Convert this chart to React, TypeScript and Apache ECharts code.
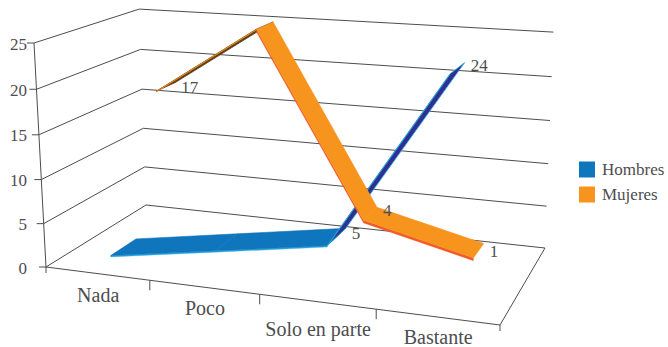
import React, { useEffect, useRef } from "react";
import * as echarts from "echarts";

const CATEGORIES = ["Nada", "Poco", "Solo en parte", "Bastante"];
const VALUE_TICKS = [0, 5, 10, 15, 20, 25];
const HOMBRES = [1, 3, 5, 24];
const MUJERES = [17, 25, 4, 1];
const HOMBRES_LABELS = [null, null, "5", "24"];
const MUJERES_LABELS = ["17", null, "4", "1"];

const FONT = '"Liberation Serif", serif';
const INK = "#4d4d4f";
const RULE = "#4d4d4f";

// Homogeneous camera: unit box (u along categories, v up, w into the depth) to page pixels.
const CAM_U = [398.6, 22, -0.1108];
const CAM_V = [-13.36, -225.72, -0.04];
const CAM_W = [121.96, -31.17, 0.1504];
const CAM_O = [46, 267, 1];

type Pt = [number, number];

function project(u: number, v: number, w: number): Pt {
  const h = (k: number) => CAM_O[k] + u * CAM_U[k] + v * CAM_V[k] + w * CAM_W[k];
  return [h(0) / h(2), h(1) / h(2)];
}

// Converts a data pair to the unit square through the hidden cartesian axes.
function toUnit(api: any, params: any, cat: number, value: number): Pt {
  const [px, py] = api.coord([cat, value]);
  const rect = params.coordSys;
  return [(px - rect.x) / rect.width, 1 - (py - rect.y) / rect.height];
}

const line = (a: Pt, b: Pt) => ({
  type: "line",
  shape: { x1: a[0], y1: a[1], x2: b[0], y2: b[1] },
  style: { stroke: RULE, lineWidth: 1, fill: "none" },
});

const text = (x: number, y: number, s: string, size: number, align: string) => ({
  type: "text",
  x,
  y,
  z2: 50,
  style: { text: s, fontSize: size, fontFamily: FONT, fill: INK, align, verticalAlign: "middle" },
});

function renderFrame(params: any, api: any) {
  const children: any[] = [];
  VALUE_TICKS.forEach((t) => {
    const [, v] = toUnit(api, params, 0, t);
    const front = project(0, v, 0);
    const back = project(0, v, 1);
    const end = project(1, v, 1);
    children.push(line(front, back), line(back, end));
    children.push(line([front[0] - 7, front[1]], front));
    children.push(text(27, front[1] + 1, String(t), 17, "right"));
  });
  children.push(line(project(0, 1, 0), project(0, 0, 0)));
  children.push(line(project(0, 0, 0), project(1, 0, 0)));
  children.push(line(project(1, 0, 0), project(1, 0, 1)));
  [0, 0.25, 0.5, 0.75, 1].forEach((u) => {
    const p = project(u, 0, 0);
    const len = u === 0 || u === 1 ? 6 : 10;
    children.push(line(p, [p[0], p[1] + len]));
  });
  const drops = [21, 21, 27, 20];
  CATEGORIES.forEach((c, i) => {
    const [u] = toUnit(api, params, i, 0);
    const p = project(u, 0, 0);
    children.push(text(p[0] + 1, p[1] + drops[i], c, 20, "center"));
  });
  return { type: "group", children };
}

interface RibbonStyle {
  values: number[];
  labels: (string | null)[];
  labelDrop: number[];
  near: number;
  far: number;
  thick: number;
  thinEdge: number;
  top: string;
  side: string;
  under: string;
  underEdge: string;
  underStroke: string;
}

const poly = (points: Pt[], fill: string, stroke: string, width: number) => ({
  type: "polygon",
  shape: { points },
  style: { fill, stroke, lineWidth: width },
});

function ribbon(cfg: RibbonStyle) {
  return (params: any, api: any) => {
    const i = params.dataIndex;
    const children: any[] = [];
    const [u0, v0] = toUnit(api, params, i, api.value(1) as number);
    if (i + 1 < cfg.values.length) {
      const [u1, v1] = toUnit(api, params, i + 1, cfg.values[i + 1]);
      const f0 = project(u0, v0, cfg.near);
      const f1 = project(u1, v1, cfg.near);
      const b0 = project(u0, v0, cfg.far);
      const b1 = project(u1, v1, cfg.far);
      const cross = (f1[0] - f0[0]) * (b0[1] - f0[1]) - (f1[1] - f0[1]) * (b0[0] - f0[0]);
      if (cross < 0) {
        // Upper face in view, with the front edge showing underneath it.
        const g0 = project(u0, v0 - cfg.thick, cfg.near);
        const g1 = project(u1, v1 - cfg.thick, cfg.near);
        children.push(poly([g0, g1, f1, f0], cfg.side, cfg.side, 0.3));
        children.push(poly([f0, f1, b1, b0], cfg.top, cfg.top, 0.6));
      } else {
        // Steep rise: only the underside and a thin edge can be seen.
        const g0 = project(u0, v0 - cfg.thinEdge, cfg.near);
        const g1 = project(u1, v1 - cfg.thinEdge, cfg.near);
        children.push(poly([f0, f1, b1, b0], cfg.under, cfg.underStroke, 0.8));
        children.push(poly([g0, g1, f1, f0], cfg.underEdge, cfg.underEdge, 0.2));
      }
    }
    const label = cfg.labels[i];
    if (label) {
      const anchor = project(u0, v0, cfg.far);
      children.push(text(anchor[0] + 6, anchor[1] + cfg.labelDrop[i], label, 17, "left"));
    }
    return { type: "group", children };
  };
}

const hombresRibbon = ribbon({
  values: HOMBRES,
  labels: HOMBRES_LABELS,
  labelDrop: [0, 0, 5, 3],
  near: 0.13,
  far: 0.38,
  thick: 0.006,
  thinEdge: 0.004,
  top: "#0f75bc",
  side: "#27aae1",
  under: "#2e3192",
  underEdge: "#27aae1",
  underStroke: "#27aae1",
});

const mujeresRibbon = ribbon({
  values: MUJERES,
  labels: MUJERES_LABELS,
  labelDrop: [5, 0, 3, 8],
  near: 0.64,
  far: 0.85,
  thick: 0.013,
  thinEdge: 0.005,
  top: "#f7941e",
  side: "#f15a29",
  under: "#5a3a14",
  underEdge: "#f7941e",
  underStroke: "#5a3a14",
});

export default function App() {
  const ref = useRef<HTMLDivElement>(null);

  useEffect(() => {
    if (!ref.current) return;
    const chart = echarts.init(ref.current, undefined, { renderer: "svg" });
    chart.setOption({
      animation: false,
      backgroundColor: "#ffffff",
      grid: { left: 0, right: 0, top: 0, bottom: 0 },
      xAxis: { type: "category", data: CATEGORIES, show: false },
      yAxis: { type: "value", min: 0, max: 25, interval: 5, show: false },
      legend: {
        data: ["Hombres", "Mujeres"],
        orient: "vertical",
        left: 579,
        top: 161,
        padding: 0,
        icon: "rect",
        itemWidth: 16,
        itemHeight: 16,
        itemGap: 8,
        selectedMode: false,
        textStyle: { fontFamily: FONT, fontSize: 17, color: INK, padding: [0, 0, 0, 2] },
      },
      series: [
        { type: "custom", silent: true, renderItem: renderFrame, data: [[0, 0]], z: 1 },
        {
          type: "custom",
          name: "Hombres",
          silent: true,
          renderItem: hombresRibbon,
          itemStyle: { color: "#0f75bc" },
          data: HOMBRES.map((v, i) => [i, v]),
          z: 2,
        },
        {
          type: "custom",
          name: "Mujeres",
          silent: true,
          renderItem: mujeresRibbon,
          itemStyle: { color: "#f7941e" },
          data: MUJERES.map((v, i) => [i, v]),
          z: 3,
        },
      ],
    });
    return () => chart.dispose();
  }, []);

  return (
    <div
      ref={ref}
      style={{ position: "fixed", left: 0, top: 0, width: 668, height: 347, background: "#fff" }}
    />
  );
}
